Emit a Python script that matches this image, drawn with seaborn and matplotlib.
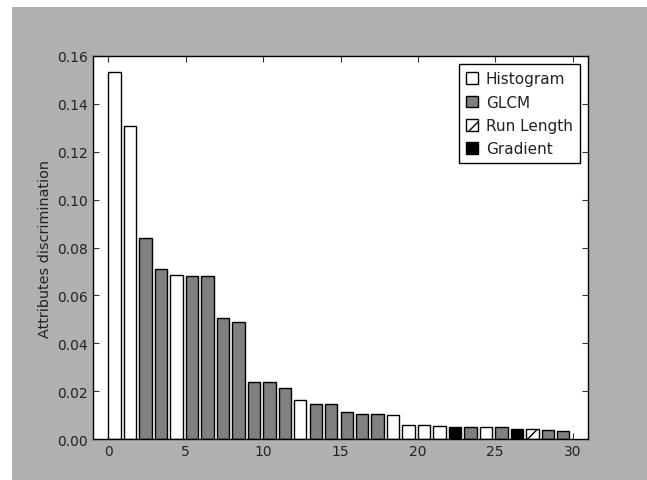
import matplotlib
matplotlib.use("Agg")
import matplotlib.pyplot as plt
from matplotlib.patches import Rectangle
import seaborn as sns
import numpy as np
import pandas as pd

# Attribute discrimination per ranked attribute, with its family
values = [0.1534, 0.1309, 0.0840, 0.0710, 0.0686, 0.0682, 0.0682, 0.0505, 0.0489, 0.0240,
          0.0240, 0.0214, 0.0164, 0.0148, 0.0148, 0.0114, 0.0106, 0.0106, 0.0102, 0.0060,
          0.0060, 0.0054, 0.0051, 0.0051, 0.0049, 0.0049, 0.0043, 0.0043, 0.0039, 0.0033]
families = ["Histogram", "Histogram", "GLCM", "GLCM", "Histogram", "GLCM", "GLCM", "GLCM", "GLCM", "GLCM",
            "GLCM", "GLCM", "Histogram", "GLCM", "GLCM", "GLCM", "GLCM", "GLCM", "Histogram", "Histogram",
            "Histogram", "Histogram", "Gradient", "GLCM", "Histogram", "GLCM", "Gradient", "Run Length", "GLCM", "GLCM"]
family_order = ["Histogram", "GLCM", "Run Length", "Gradient"]
family_colors = ["white", "#808080", "white", "black"]
x_ticks = [0, 5, 10, 15, 20, 25, 30]
y_ticks = [0.00, 0.02, 0.04, 0.06, 0.08, 0.10, 0.12, 0.14, 0.16]

df = pd.DataFrame({"rank": np.arange(len(values)), "value": values, "family": families})
# bars are edge aligned like old matplotlib (left edge at the rank)
df["pos"] = df["rank"] + 0.4

sns.set_style("ticks")
plt.rcParams["font.family"] = ["DejaVu Sans"]
plt.rcParams["hatch.linewidth"] = 1.0

fig = plt.figure(figsize=(6.47, 4.81), dpi=100, facecolor="white")
fig.patches.append(Rectangle((12 / 647, 0), 1, 1 - 8 / 481, transform=fig.transFigure,
                             facecolor="#b0b0b0", edgecolor="none", zorder=-10))
ax = fig.add_axes([93 / 647, 1 - 440 / 481, 495 / 647, 383 / 481])

sns.barplot(data=df, x="pos", y="value", hue="family", hue_order=family_order,
            palette=family_colors, native_scale=True, dodge=False, width=0.8,
            edgecolor="black", linewidth=1.0, saturation=1, legend=False, ax=ax)

for cont, fam in zip(ax.containers, family_order):
    if fam == "Run Length":
        for bar in cont:
            bar.set_hatch("//")

ax.set_xlim(-1, 31)
ax.set_ylim(0, 0.16)
ax.set_xticks(x_ticks)
ax.set_xticklabels([str(t) for t in x_ticks])
ax.set_yticks(y_ticks)
ax.set_yticklabels(["%.2f" % t for t in y_ticks])
ax.set_xlabel("")
ax.set_ylabel("Attributes discrimination", fontsize=10.4, color="#222222")
ax.tick_params(direction="in", top=True, right=True, labelsize=10, length=4, width=0.8,
               color="#333333", labelcolor="#222222")
for sp in ax.spines.values():
    sp.set_visible(True)
    sp.set_color("black")
    sp.set_linewidth(1.0)

leg = ax.legend(ax.containers, family_order, loc="upper right", fontsize=11, frameon=True,
                fancybox=False, edgecolor="black", framealpha=1, handlelength=0.8, handleheight=0.8,
                handletextpad=0.5, borderpad=0.45, labelspacing=0.55, borderaxespad=0.55)
for t in leg.get_texts():
    t.set_color("#222222")

fig.savefig("out.png", dpi=100, facecolor=fig.get_facecolor())
